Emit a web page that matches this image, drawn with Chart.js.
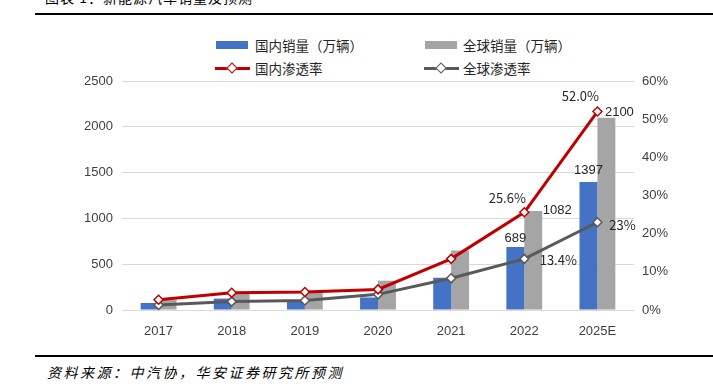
<!DOCTYPE html>
<html>
<head>
<meta charset="utf-8">
<script src="https://cdn.jsdelivr.net/npm/chart.js@4"></script>
<style>
  body { margin: 0; background: #fff; width: 713px; height: 390px; overflow: hidden; position: relative; font-family: "Noto Sans CJK SC", sans-serif; }
  #chart { position: absolute; left: 0; top: 0; }
  .title { position: absolute; left: 45px; top: -13px; font-size: 14px; color: #000; letter-spacing: 1px; }
  .rule { position: absolute; left: 35px; right: 0; height: 2px; background: #000; }
  .source { position: absolute; left: 47px; top: 362px; font-size: 14px; font-style: italic; letter-spacing: 2.5px; color: #000; }
  .leg { position: absolute; font-size: 13.5px; color: #262626; line-height: 16px; }
  .box { position: absolute; width: 32px; height: 8px; }
  .ln { position: absolute; width: 35px; height: 3px; }
  .dia { position: absolute; width: 6px; height: 6px; background: #fff; transform: rotate(45deg); }
</style>
</head>
<body>
<div class="title">图表 1：新能源汽车销量及预测</div>
<div class="rule" style="top:13px"></div>
<div class="rule" style="top:355px"></div>
<div class="source">资料来源：中汽协，华安证券研究所预测</div>

<div class="box" style="left:216px;top:41px;background:#4472C4"></div>
<div class="leg" style="left:255px;top:37px">国内销量（万辆）</div>
<div class="box" style="left:425px;top:41px;background:#A5A5A5"></div>
<div class="leg" style="left:463px;top:37px">全球销量（万辆）</div>
<div class="ln" style="left:215px;top:67px;background:#C00000"></div>
<div class="dia" style="left:228px;top:64px;border:1.5px solid #C00000"></div>
<div class="leg" style="left:255px;top:60px">国内渗透率</div>
<div class="ln" style="left:424px;top:67px;background:#595959"></div>
<div class="dia" style="left:437px;top:64px;border:1.5px solid #595959"></div>
<div class="leg" style="left:463px;top:60px">全球渗透率</div>

<canvas id="chart" width="713" height="390"></canvas>
<script>
const years = ["2017", "2018", "2019", "2020", "2021", "2022", "2025E"];
const chinaSales = [77, 125, 110, 137, 352, 689, 1397];
const globalSales = [110, 190, 200, 320, 650, 1082, 2100];
const chinaRate = [2.7, 4.5, 4.7, 5.4, 13.4, 25.6, 52.0];
const globalRate = [1.3, 2.2, 2.5, 4.1, 8.3, 13.4, 23.0];
const leftTicks = [0, 500, 1000, 1500, 2000, 2500];
const rightTicks = [0, 10, 20, 30, 40, 50, 60];

// which points get a value label, and where it sits relative to the point
const labelSpots = [
    { ds: 0, i: 5, text: "689", dx: 0, dy: -8 },
    { ds: 0, i: 6, text: "1397", dx: 0, dy: -12 },
    { ds: 1, i: 5, text: "1082", dx: 24, dy: 0 },
    { ds: 1, i: 6, text: "2100", dx: 13, dy: -5 },
    { ds: 2, i: 5, text: "25.6%", dx: -17, dy: -14 },
    { ds: 2, i: 6, text: "52.0%", dx: -17, dy: -15 },
    { ds: 3, i: 5, text: "13.4%", dx: 34, dy: 1 },
    { ds: 3, i: 6, text: "23%", dx: 25, dy: 3 }
];

const valueLabels = {
    id: "valueLabels",
    afterDatasetsDraw(chart) {
        const ctx = chart.ctx;
        ctx.save();
        ctx.fillStyle = "#262626";
        ctx.textAlign = "center";
        ctx.textBaseline = "middle";
        labelSpots.forEach(function (s) {
            const el = chart.getDatasetMeta(s.ds).data[s.i];
            const isPct = s.text.indexOf("%") >= 0;
            ctx.font = isPct ? '13px "Noto Sans CJK SC"' : '13px "Liberation Sans", Arial, sans-serif';
            ctx.fillText(s.text, el.x + s.dx, el.y + s.dy);
        });
        ctx.restore();
    }
};

const tickFont = { family: '"Liberation Sans", Arial, sans-serif', size: 13 };

new Chart(document.getElementById("chart"), {
    data: {
        labels: years,
        datasets: [
            { type: "bar", label: "国内销量（万辆）", data: chinaSales, backgroundColor: "#4472C4", yAxisID: "y", order: 2, barPercentage: 1, categoryPercentage: 0.49 },
            { type: "bar", label: "全球销量（万辆）", data: globalSales, backgroundColor: "#A5A5A5", yAxisID: "y", order: 2, barPercentage: 1, categoryPercentage: 0.49 },
            { type: "line", label: "国内渗透率", data: chinaRate, borderColor: "#C00000", borderWidth: 3, pointStyle: "rectRot", pointRadius: 4.5, pointBorderWidth: 1.5, pointBackgroundColor: "#fff", pointBorderColor: "#C00000", yAxisID: "y1", order: 0, tension: 0 },
            { type: "line", label: "全球渗透率", data: globalRate, borderColor: "#595959", borderWidth: 3, pointStyle: "rectRot", pointRadius: 4.5, pointBorderWidth: 1.5, pointBackgroundColor: "#fff", pointBorderColor: "#595959", yAxisID: "y1", order: 1, tension: 0 }
        ]
    },
    options: {
        responsive: false,
        animation: false,
        layout: { padding: { top: 81, bottom: 50, left: 0, right: 0 } },
        plugins: { legend: { display: false }, tooltip: { enabled: false } },
        scales: {
            x: {
                grid: { display: false },
                border: { display: false },
                ticks: { font: tickFont, color: "#404040", padding: 6 },
                afterFit: function (s) { s.height = 30; }
            },
            y: {
                position: "left",
                min: 0, max: 2500,
                afterBuildTicks: function (s) { s.ticks = leftTicks.map(v => ({ value: v })); },
                grid: { color: "#D9D9D9", lineWidth: 1, drawTicks: false },
                border: { display: false },
                ticks: { font: tickFont, color: "#404040", padding: 9, callback: v => String(v) },
                afterFit: function (s) { s.width = 122; }
            },
            y1: {
                position: "right",
                min: 0, max: 60,
                afterBuildTicks: function (s) { s.ticks = rightTicks.map(v => ({ value: v })); },
                grid: { display: false, drawTicks: false },
                border: { display: false },
                ticks: { font: tickFont, color: "#404040", padding: 8, callback: v => v + "%" },
                afterFit: function (s) { s.width = 79; }
            }
        }
    },
    plugins: [valueLabels]
});
</script>
</body>
</html>
